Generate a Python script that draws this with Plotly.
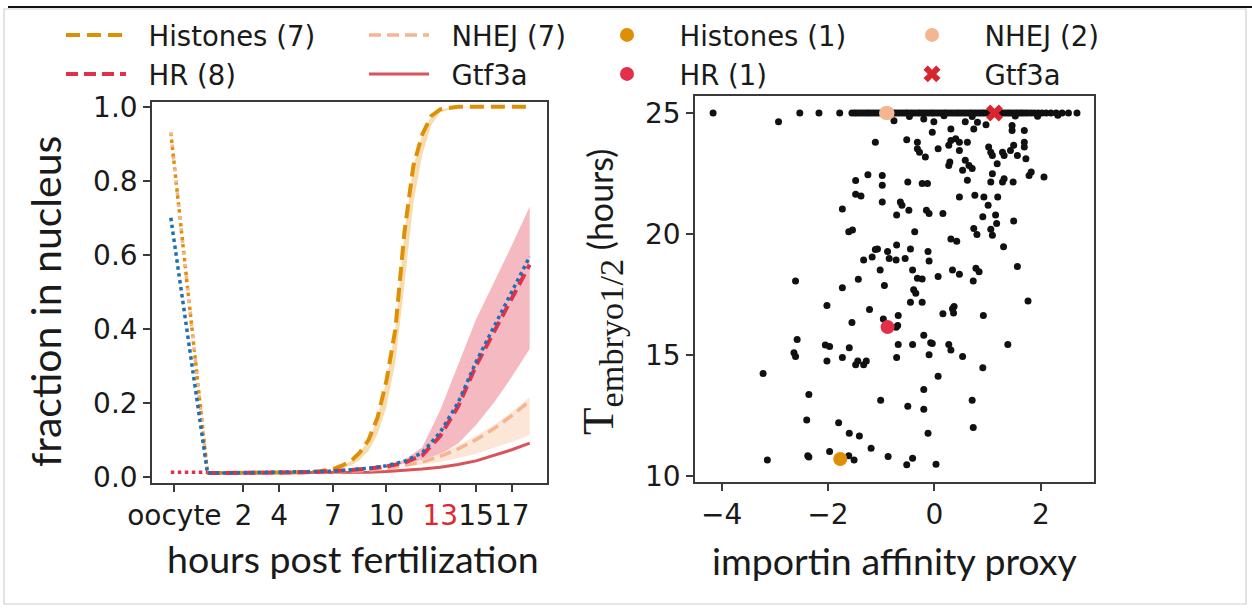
import plotly.graph_objects as go

# ---------------- left panel: nuclear fraction over development ----------------
hpf = list(range(19))                      # hours post fertilization, 0..18
oocyte_t = -2.05                           # x position used for the oocyte state
oocyte_tick = -1.85

histone_hpf = [0, 1, 2, 3, 4, 5, 6, 7, 7.5, 8, 8.5, 9, 9.5, 10, 10.5, 11, 11.5, 12, 12.5, 13,
               14, 15, 16, 17, 18]
histone_mean = [0.010, 0.010, 0.010, 0.010, 0.011, 0.012, 0.013, 0.020, 0.030, 0.042, 0.065,
                0.100, 0.160, 0.260, 0.400, 0.660, 0.840, 0.925, 0.975, 0.993,
                1.0, 1.0, 1.0, 1.0, 1.0]
histone_low = [0.010, 0.010, 0.010, 0.010, 0.010, 0.011, 0.012, 0.015, 0.022, 0.030, 0.045,
               0.070, 0.115, 0.190, 0.310, 0.520, 0.740, 0.870, 0.950, 0.985,
               0.998, 1.0, 1.0, 1.0, 1.0]

hr_mean = [0.010, 0.010, 0.011, 0.011, 0.012, 0.012, 0.013, 0.015, 0.018, 0.022, 0.028,
           0.038, 0.058, 0.110, 0.190, 0.300, 0.390, 0.480, 0.573]
hr_upper = [0.010, 0.010, 0.011, 0.011, 0.012, 0.012, 0.013, 0.015, 0.018, 0.022, 0.030,
            0.045, 0.080, 0.180, 0.305, 0.425, 0.525, 0.625, 0.730]
hr_lower = [0.010, 0.010, 0.011, 0.011, 0.012, 0.012, 0.013, 0.015, 0.018, 0.022, 0.027,
            0.035, 0.045, 0.060, 0.090, 0.140, 0.200, 0.270, 0.345]
hr_model = [0.010, 0.010, 0.011, 0.011, 0.012, 0.012, 0.013, 0.015, 0.019, 0.023, 0.030,
            0.042, 0.065, 0.120, 0.200, 0.310, 0.405, 0.500, 0.595]

nhej_mean = [0.010, 0.010, 0.010, 0.011, 0.011, 0.012, 0.012, 0.013, 0.015, 0.018, 0.022,
             0.030, 0.040, 0.055, 0.075, 0.100, 0.130, 0.165, 0.205]
nhej_upper = [0.010, 0.010, 0.010, 0.011, 0.011, 0.012, 0.012, 0.013, 0.015, 0.018, 0.023,
              0.032, 0.045, 0.062, 0.085, 0.110, 0.140, 0.175, 0.215]
nhej_lower = [0.010, 0.010, 0.010, 0.011, 0.011, 0.012, 0.012, 0.013, 0.015, 0.018, 0.021,
              0.028, 0.033, 0.040, 0.050, 0.062, 0.077, 0.094, 0.113]

gtf3a_mean = [0.010, 0.010, 0.010, 0.010, 0.010, 0.010, 0.010, 0.010, 0.010, 0.012, 0.014,
              0.017, 0.021, 0.026, 0.033, 0.043, 0.057, 0.073, 0.091]

# oocyte values joined to the 0 hpf value
oocyte_histone = [0.93, 0.012]
oocyte_nhej = [0.93, 0.012]
oocyte_model = [0.70, 0.012]
oocyte_gtf3a = [0.012, 0.012]

x_ticks = [oocyte_tick, 2, 4, 7, 10, 13, 15, 17]
x_ticktext = ["oocyte", "2", "4", "7", "10", "<span style='color:#e0262f'>13</span>", "15", "17"]
y_ticks = [0.0, 0.2, 0.4, 0.6, 0.8, 1.0]
y_ticktext = ["0.0", "0.2", "0.4", "0.6", "0.8", "1.0"]

# ---------------- right panel: half-time vs importin affinity ----------------
# proteins saturating at the 25 h cap
cap_affinity = [-4.16, -2.53, -2.17, -1.78,
                -1.55, -1.50, -1.46, -1.41, -1.36, -1.31, -1.26, -1.22, -1.17, -1.12, -1.07,
                -1.02, -0.98, -0.93, -0.88, -0.83, -0.78, -0.74, -0.69, -0.64, -0.59, -0.54,
                -0.50, -0.45, -0.40, -0.35, -0.30, -0.26, -0.21, -0.16, -0.11, -0.06, -0.02,
                0.03, 0.08, 0.13, 0.18, 0.22, 0.27, 0.32, 0.37, 0.42, 0.46, 0.51, 0.56, 0.61,
                0.66, 0.70, 0.75, 0.80, 0.85, 0.90, 0.94, 0.99, 1.04, 1.09, 1.14, 1.18, 1.23,
                1.28, 1.33, 1.38, 1.42, 1.47, 1.52, 1.57, 1.62, 1.66, 1.71, 1.76, 1.82, 1.88,
                1.95, 2.02, 2.10, 2.19, 2.29, 2.40, 2.52, 2.68]
cap_thalf = [25.0] * len(cap_affinity)

other_affinity = [
    -0.47, 0.18, 0.71, 1.52, 1.94, 2.32, -2.93,
    -1.11, -1.25, -1.48, -1.48, -1.38, -1.73, -1.61, -1.54, -1.11, -1.17, -1.33, -2.61,
    -1.43, -1.73,
    -0.76, -0.20, -0.01, -0.04, 0.31, 0.58, 0.81, 0.74, 0.97, -0.52, -0.32, -0.32, -0.28,
    -0.17, 0.07, 0.27, 0.31, 0.40, 0.47, 0.47, 0.62, 0.27, 0.29, 0.58, 0.65, 0.71,
    0.53, 1.02, 1.06, 1.09, 1.18, 1.28, 1.31, 1.43, 1.49, 1.56, 1.46, 1.46, 1.69, 1.69,
    1.69, 1.72, 1.78, 1.82, 2.06, 1.09, 1.06, 1.28, 1.31, 1.48, 0.62, -0.23, -0.13, -0.50,
    -0.98, -0.98, -0.98, -0.64, -0.61, -0.48, -0.71, -0.15, -0.10, 0.16, 0.47, 0.76,
    0.93, 1.19, 1.01, 0.91, 1.15, 1.17, 1.49, 0.74, 0.80, 1.06, 1.09, 1.30, -0.37, 0.31,
    0.42, -0.71, -0.45, -0.88, -0.85, -0.72, -1.07, -0.55, -0.12, -0.10, -1.02, -0.41,
    -0.32, -0.23, 0.07, 0.34, 0.47, 0.78, 0.84, 1.56, 0.73,
    -2.02, -1.22, -1.55, -2.58, -2.05, -1.97, -1.60, -2.64, -2.61, -2.02, -1.73, -1.48,
    -1.44, -1.33, -1.28, -3.22, -2.36, -2.40, -1.80, -1.60, -1.41, -1.19, -1.97, -1.61,
    -1.51, -3.14, -2.38, -2.36,
    -0.94, -0.39, -0.35, -0.45, -0.23, 0.16, 0.34, 0.37, 0.36, 0.92, 1.76, -0.68,
    -0.96, -0.69, -0.72, -0.20, -0.68, -0.41, -0.07, -0.04, 0.27, 0.31, -0.71, -0.10,
    0.53, 1.38, 0.91, 0.07, -0.20, -1.01, -0.50, -0.20, 0.71, -0.12, 0.73, -0.87, -0.41,
    -0.52, 0.03]
other_thalf = [
    24.85, 24.88, 24.85, 24.87, 24.86, 24.90, 24.64,
    23.79, 22.45, 22.21, 21.64, 21.57, 21.03, 20.09, 20.16, 19.36, 19.05, 18.92, 18.06,
    18.13, 17.78,
    24.68, 24.75, 24.64, 24.20, 24.34, 24.64, 24.62, 24.34, 24.51, 23.89, 23.79, 23.52, 23.38,
    23.18, 23.52, 23.66, 23.86, 23.93, 23.79, 23.45, 23.79, 22.83, 22.97, 23.04, 22.83, 22.70,
    22.63, 23.59, 23.38, 23.24, 22.90, 23.38, 23.24, 23.45, 23.66, 23.24, 24.48, 24.27, 24.27, 23.79,
    23.59, 23.11, 22.42, 22.56, 22.35, 22.49, 22.15, 22.15, 22.28, 22.15, 22.22, 22.08, 22.08, 22.15,
    22.42, 22.01, 21.32, 21.32, 21.19, 20.98, 20.78, 20.98, 20.84, 20.84, 21.53, 21.60,
    21.53, 21.53, 21.19, 20.71, 20.78, 20.43, 20.53, 20.23, 19.98, 20.19, 19.95, 19.47, 20.09, 19.79,
    19.70, 19.54, 19.38, 19.27, 18.99, 18.92, 19.38, 18.99, 19.27, 18.88, 18.51, 18.51,
    18.17, 18.14, 18.24, 18.51, 18.33, 18.58, 18.44, 18.65, 18.06,
    17.04, 16.88, 16.34, 15.64, 15.41, 15.35, 15.30, 15.09, 14.94, 14.75, 14.89, 14.60,
    14.75, 14.60, 14.75, 14.23, 13.37, 12.31, 12.20, 11.76, 11.65, 11.14, 11.01, 10.83,
    10.66, 10.66, 10.83, 10.78,
    17.87, 17.69, 17.55, 17.18, 17.18, 16.70, 16.91, 17.00, 16.73, 16.63, 17.23, 16.63,
    16.49, 16.22, 16.14, 15.81, 15.43, 15.43, 15.50, 15.47, 15.43, 15.20, 14.89, 15.01,
    14.94, 15.43, 14.47, 14.12, 13.57, 13.13, 12.88, 12.76, 13.13, 11.76, 12.00, 10.80, 10.73,
    10.46, 10.48]

histone_pt = ([-1.77], [10.70])
nhej_pts = ([-0.91, -0.88], [25.0, 25.0])
hr_pt = ([-0.88], [16.15])
gtf3a_pt = ([1.13], [25.0])

# ---------------- colours ----------------
C_HIST = "#DE8F05"
C_HIST_BAND = "#F7DCAE"
C_HR = "#E2304A"
C_HR_BAND = "#F4B9C1"
C_NHEJ = "#F4B690"
C_NHEJ_BAND = "#FCE6D8"
C_GTF = "#D9545A"
C_GTF_X = "#D7262F"
C_MODEL = "#1F6FB4"

TICK_FONT = dict(family="DejaVu Sans", size=28, color="#1a1a1a")
TITLE_FONT = dict(family="Lato", size=37.5, color="#1a1a1a")
PAD = "\u00a0\u00a0"        # gap between legend symbol and label

fig = go.Figure()


def band(x, lo, hi, color):
    fig.add_trace(go.Scatter(x=list(x) + list(x)[::-1], y=list(hi) + list(lo)[::-1],
                             fill="toself", fillcolor=color, mode="lines",
                             line=dict(width=0), showlegend=False, hoverinfo="skip",
                             xaxis="x", yaxis="y"))


band(histone_hpf, histone_low, histone_mean, C_HIST_BAND)
band(hpf, hr_lower, hr_upper, C_HR_BAND)
band(hpf, nhej_lower, nhej_upper, C_NHEJ_BAND)

# oocyte -> 0 hpf segments
fig.add_trace(go.Scatter(x=[oocyte_t, 0], y=oocyte_histone, mode="lines",
                         line=dict(color=C_HIST, width=3.5, dash="dot"), showlegend=False))
fig.add_trace(go.Scatter(x=[oocyte_t, 0], y=oocyte_nhej, mode="lines",
                         line=dict(color=C_NHEJ, width=3.5, dash="3px,9px"), showlegend=False))
fig.add_trace(go.Scatter(x=[oocyte_t, 0], y=oocyte_gtf3a, mode="lines",
                         line=dict(color=C_HR, width=3.5, dash="dot"), showlegend=False))

fig.add_trace(go.Scatter(x=hpf, y=gtf3a_mean, mode="lines", name=PAD + "Gtf3a",
                         line=dict(color=C_GTF, width=3), legend="legend4"))
fig.add_trace(go.Scatter(x=hpf, y=nhej_mean, mode="lines", name=PAD + "NHEJ (7)",
                         line=dict(color=C_NHEJ, width=3.5, dash="12px,6px"), legend="legend2"))
fig.add_trace(go.Scatter(x=histone_hpf, y=histone_mean, mode="lines", name=PAD + "Histones (7)",
                         line=dict(color=C_HIST, width=4, dash="14px,7px"), legend="legend"))
fig.add_trace(go.Scatter(x=hpf, y=hr_mean, mode="lines", name=PAD + "HR (8)",
                         line=dict(color=C_HR, width=4, dash="12px,6px"), legend="legend3"))
fig.add_trace(go.Scatter(x=[oocyte_t] + hpf, y=oocyte_model[:1] + hr_model, mode="lines",
                         line=dict(color=C_MODEL, width=3.5, dash="dot"), showlegend=False))

# right panel scatter
fig.add_trace(go.Scatter(x=cap_affinity + other_affinity, y=cap_thalf + other_thalf,
                         mode="markers", marker=dict(color="#111111", size=7),
                         showlegend=False, xaxis="x2", yaxis="y2"))
fig.add_trace(go.Scatter(x=histone_pt[0], y=histone_pt[1], mode="markers",
                         name=PAD + "Histones (1)", marker=dict(color=C_HIST, size=14),
                         xaxis="x2", yaxis="y2", legend="legend5"))
fig.add_trace(go.Scatter(x=nhej_pts[0], y=nhej_pts[1], mode="markers", name=PAD + "NHEJ (2)",
                         marker=dict(color=C_NHEJ, size=14), xaxis="x2", yaxis="y2",
                         legend="legend6"))
fig.add_trace(go.Scatter(x=hr_pt[0], y=hr_pt[1], mode="markers", name=PAD + "HR (1)",
                         marker=dict(color=C_HR, size=14), xaxis="x2", yaxis="y2",
                         legend="legend7"))
fig.add_trace(go.Scatter(x=gtf3a_pt[0], y=gtf3a_pt[1], mode="markers", name=PAD + "Gtf3a",
                         marker=dict(color=C_GTF_X, size=15, symbol="x"), xaxis="x2",
                         yaxis="y2", legend="legend8"))

W, H = 1252, 610
axis_common = dict(showline=True, mirror=True, linecolor="#3a3a3a", linewidth=1.6,
                   ticks="outside", ticklen=7, tickwidth=1.6, tickcolor="#3a3a3a",
                   showgrid=False, zeroline=False, tickfont=TICK_FONT, tickangle=0)


def legend_at(x_px, y_px):
    return dict(x=x_px / W, y=1 - y_px / H, xanchor="left", yanchor="middle",
                orientation="v", itemwidth=60, bgcolor="rgba(0,0,0,0)",
                font=dict(family="DejaVu Sans", size=27.5, color="#1a1a1a"))


ROW1, ROW2 = 35, 74
fig.update_layout(
    width=W, height=H, margin=dict(l=0, r=0, t=0, b=0, autoexpand=False),
    paper_bgcolor="white", plot_bgcolor="white", showlegend=True,
    xaxis=dict(domain=[152 / W, 546.7 / W], range=[-3.1, 18.95], tickvals=x_ticks,
               ticktext=x_ticktext, anchor="y", **axis_common),
    yaxis=dict(domain=[1 - 482.7 / H, 1 - 101.7 / H], range=[-0.016, 1.0135],
               tickvals=y_ticks, ticktext=y_ticktext, anchor="x", **axis_common),
    xaxis2=dict(domain=[695 / W, 1094 / W], range=[-4.50, 3.00], tickvals=[-4, -2, 0, 2],
                ticktext=["\u22124", "\u22122", "0", "2"], anchor="y2", **axis_common),
    yaxis2=dict(domain=[1 - 482 / H, 1 - 96 / H], range=[9.75, 25.70],
                tickvals=[10, 15, 20, 25], anchor="x2", **axis_common),
    legend=legend_at(61, ROW1),
    legend2=legend_at(364, ROW1),
    legend3=legend_at(61, ROW2),
    legend4=legend_at(364, ROW2),
    legend5=legend_at(592, ROW1),
    legend6=legend_at(897, ROW1),
    legend7=legend_at(592, ROW2),
    legend8=legend_at(897, ROW2),
)

annotations = [
    dict(text="hours post fertilization", x=353 / W, y=1 - 558 / H, xref="paper",
         yref="paper", showarrow=False, font=TITLE_FONT, xanchor="center", yanchor="middle"),
    dict(text="fraction in nucleus", x=45 / W, y=1 - 302 / H, xref="paper", yref="paper",
         showarrow=False, font=dict(family="Lato", size=41, color="#1a1a1a"), textangle=-90,
         xanchor="center", yanchor="middle"),
    dict(text="importin affinity proxy", x=894 / W, y=1 - 560 / H, xref="paper",
         yref="paper", showarrow=False, font=TITLE_FONT, xanchor="center", yanchor="middle"),
    dict(text="<span style='font-family:Liberation Serif;font-size:45px'>T</span>"
              "<span style='font-family:Liberation Serif;font-size:49px'><sub>embryo1/2</sub></span>"
              " (hours)",
         x=601 / W, y=1 - 292 / H, xref="paper", yref="paper", showarrow=False,
         font=dict(family="Lato", size=34, color="#1a1a1a"), textangle=-90,
         xanchor="center", yanchor="middle"),
]
fig.update_layout(annotations=annotations)

# page frame
fig.add_shape(type="line", xref="paper", yref="paper", x0=8 / W, x1=1, y0=1 - 7 / H,
              y1=1 - 7 / H, line=dict(color="#111111", width=2))
fig.add_shape(type="rect", xref="paper", yref="paper", x0=4 / W, x1=1246 / W,
              y0=1 - 604 / H, y1=1 - 9 / H, line=dict(color="#cfcfcf", width=1.2))

fig.write_html("out.html")
